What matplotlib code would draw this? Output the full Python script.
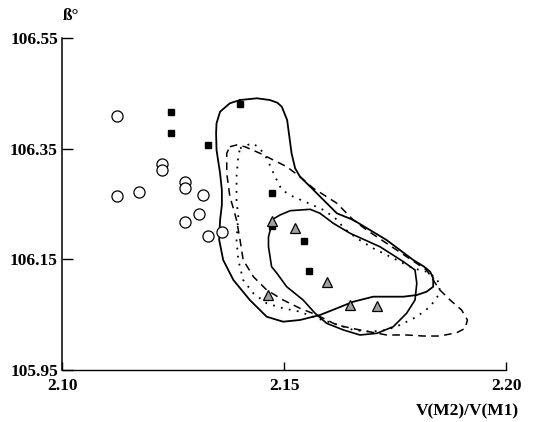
import matplotlib
matplotlib.use("Agg")
import matplotlib.pyplot as plt

# open circles
circ_x = [2.1123, 2.1123, 2.1173, 2.1226, 2.1226, 2.1277, 2.1277, 2.1318, 2.1308, 2.1277, 2.1329, 2.1360]
circ_y = [106.4096, 106.2645, 106.2717, 106.3223, 106.3115, 106.2892, 106.2795, 106.2663, 106.2314, 106.2180, 106.1927, 106.1994]

# filled squares
sq_x = [2.1245, 2.1245, 2.1328, 2.1401, 2.1472, 2.1472, 2.1545, 2.1556]
sq_y = [106.4163, 106.3789, 106.3561, 106.4302, 106.2694, 106.2103, 106.1826, 106.1295]

# grey triangles
tri_x = [2.1472, 2.1525, 2.1596, 2.1464, 2.1648, 2.1709]
tri_y = [106.2198, 106.2061, 106.1096, 106.0850, 106.0669, 106.0662]

# large solid contour
big_x = [2.1401, 2.1439, 2.1468, 2.1485, 2.1495, 2.1507, 2.1512, 2.1517, 2.1525, 2.1536, 2.1559,
         2.1589, 2.1619, 2.1656, 2.1731, 2.1791, 2.1815, 2.1829, 2.1836, 2.1836, 2.1821, 2.1799,
         2.1769, 2.1701, 2.1656, 2.1619, 2.1581, 2.1536, 2.1498, 2.1461, 2.1423, 2.1386,
         2.1363, 2.1354, 2.1356, 2.1360, 2.1360, 2.1356, 2.1348, 2.1347, 2.1348, 2.1356,
         2.1378, 2.1401]
big_y = [106.4379, 106.4410, 106.4379, 106.4330, 106.4258, 106.4018, 106.3716, 106.3416, 106.3145, 106.2993, 106.2813,
         106.2572, 106.2332, 106.2211, 106.1849, 106.1488, 106.1370, 106.1277, 106.1157, 106.1005, 106.0915, 106.0855,
         106.0825, 106.0825, 106.0734, 106.0615, 106.0494, 106.0404, 106.0373, 106.0463, 106.0765, 106.1126,
         106.1488, 106.1849, 106.2211, 106.2482, 106.2753, 106.3055, 106.3476, 106.3778, 106.3958, 106.4168,
         106.4320, 106.4379]

# small solid contour
small_x = [2.1472, 2.1491, 2.1514, 2.1559, 2.1581, 2.1611, 2.1649, 2.1716, 2.1769, 2.1795,
           2.1799, 2.1795, 2.1776, 2.1746, 2.1709, 2.1671, 2.1634, 2.1596, 2.1570, 2.1543,
           2.1506, 2.1484, 2.1472, 2.1465, 2.1465, 2.1472, 2.1472]
small_y = [106.2211, 106.2301, 106.2379, 106.2404, 106.2332, 106.2151, 106.1970, 106.1728, 106.1457, 106.1307,
           106.1067, 106.0765, 106.0525, 106.0283, 106.0163, 106.0133, 106.0223, 106.0344, 106.0525, 106.0765,
           106.1005, 106.1248, 106.1367, 106.1728, 106.1909, 106.2120, 106.2211]

# dashed contour
dash_x = [2.1378, 2.1393, 2.1412, 2.1446, 2.1476, 2.1506, 2.1536, 2.1566, 2.1596, 2.1619,
          2.1656, 2.1686, 2.1731, 2.1776, 2.1821, 2.1851, 2.1874, 2.1900, 2.1913, 2.1908,
          2.1889, 2.1851, 2.1814, 2.1776, 2.1731, 2.1671, 2.1619, 2.1574, 2.1536, 2.1498,
          2.1461, 2.1431, 2.1408, 2.1401, 2.1393, 2.1387, 2.1378, 2.1371, 2.1371, 2.1378]
dash_y = [106.3535, 106.3566, 106.3535, 106.3416, 106.3295, 106.3174, 106.2993, 106.2784, 106.2632, 106.2513,
          106.2211, 106.2030, 106.1790, 106.1548, 106.1307, 106.0946, 106.0765, 106.0584, 106.0404, 106.0254,
          106.0174, 106.0114, 106.0114, 106.0133, 106.0133, 106.0223, 106.0313, 106.0494, 106.0615, 106.0765,
          106.0946, 106.1186, 106.1488, 106.1849, 106.2211, 106.2392, 106.2632, 106.3055, 106.3416, 106.3535]

# dotted contour
dot_x = [2.1401, 2.1427, 2.1442, 2.1457, 2.1468, 2.1480, 2.1495, 2.1521, 2.1554, 2.1589,
         2.1615, 2.1637, 2.1664, 2.1701, 2.1739, 2.1791, 2.1821, 2.1844, 2.1851, 2.1848,
         2.1829, 2.1799, 2.1761, 2.1731, 2.1694, 2.1656, 2.1611, 2.1574, 2.1536, 2.1498,
         2.1461, 2.1431, 2.1408, 2.1397, 2.1393, 2.1397, 2.1393, 2.1393, 2.1397, 2.1401]
dot_y = [106.3507, 106.3597, 106.3535, 106.3385, 106.3205, 106.2993, 106.2753, 106.2632, 106.2518, 106.2392,
         106.2247, 106.2048, 106.1880, 106.1699, 106.1548, 106.1338, 106.1277, 106.1157, 106.1005, 106.0855,
         106.0644, 106.0463, 106.0313, 106.0223, 106.0192, 106.0223, 106.0344, 106.0434, 106.0554, 106.0615,
         106.0705, 106.0886, 106.1126, 106.1488, 106.1849, 106.2270, 106.2572, 106.2993, 106.3355, 106.3507]

x_ticks = [2.10, 2.15, 2.20]
x_labels = ["2.10", "2.15", "2.20"]
y_ticks = [105.95, 106.15, 106.35, 106.55]
y_labels = ["105.95", "106.15", "106.35", "106.55"]

plt.rcParams['font.family'] = ['Liberation Serif', 'DejaVu Serif']
plt.rcParams['font.weight'] = 'bold'

fig = plt.figure(figsize=(5.36, 4.22), dpi=100)
ax = fig.add_axes([0.1157, 0.1232, 0.8284, 0.7868])

ax.plot(big_x, big_y, color='black', lw=1.3, ls='-')
ax.plot(small_x, small_y, color='black', lw=1.2, ls='-')
ax.plot(dash_x, dash_y, color='black', lw=1.1, ls=(0, (5, 3.5)))
ax.plot(dot_x, dot_y, color='black', lw=1.3, ls=(0, (1, 3.5)))

ax.plot(circ_x, circ_y, 'o', ms=8, mfc='white', mec='black', mew=0.9)
ax.plot(sq_x, sq_y, 's', ms=5, mfc='black', mec='black')
ax.plot(tri_x, tri_y, '^', ms=7.5, mfc='#a0a0a0', mec='black', mew=0.9)

ax.set_xlim(2.10, 2.20)
ax.set_ylim(105.95, 106.55)
ax.set_xticks(x_ticks)
ax.set_xticklabels(x_labels)
ax.set_yticks(y_ticks)
ax.set_yticklabels(y_labels)
ax.tick_params(axis='x', direction='in', length=6, width=1, pad=6, labelsize=12.5)
ax.tick_params(axis='y', direction='in', length=8, width=1, pad=3, labelsize=12.5)

ax.spines['top'].set_visible(False)
ax.spines['right'].set_visible(False)
ax.spines['left'].set_linewidth(1.1)
ax.spines['bottom'].set_linewidth(1.0)

ax.set_xlabel('V(M2)/V(M1)', fontsize=12.5, fontweight='bold')
ax.xaxis.set_label_coords(0.912, -0.10)
ax.text(0.02, 1.065, 'ß°', transform=ax.transAxes, ha='center', va='center',
        fontsize=12.5, fontweight='bold')

fig.savefig('out.png', dpi=100)
